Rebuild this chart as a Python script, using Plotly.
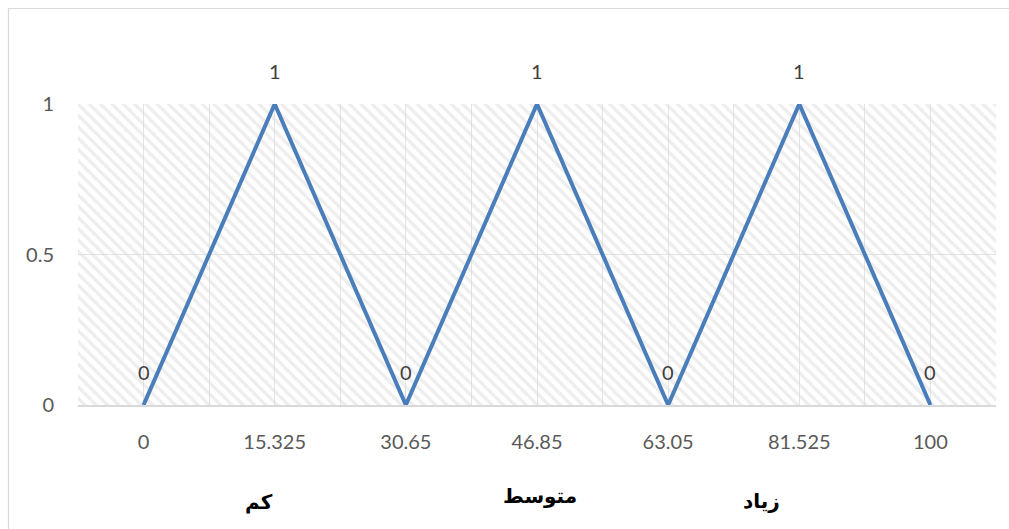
import plotly.graph_objects as go

# ---- data ----
categories = ["0", "15.325", "30.65", "46.85", "63.05", "81.525", "100"]
membership = [0, 1, 0, 1, 0, 1, 0]
y_ticks = [0, 0.5, 1]
y_tick_text = ["0", "0.5", "1"]
level_labels = ["کم", "متوسط", "زیاد"]

# ---- layout constants ----
W, H = 1009, 529
L, R, T, B = 78, 13, 104, 124
pw, ph = W - L - R, H - T - B
level_px = [(243, 516), (540, 510), (782, 515)]

x_idx = list(range(len(categories)))
ymax = max(y_ticks)

fig = go.Figure()

# hatched plot background
fig.add_trace(go.Bar(
    x=x_idx, y=[ymax] * len(x_idx), width=1,
    marker=dict(color="rgba(0,0,0,0)", line=dict(width=0),
                pattern=dict(shape="\\", size=8, solidity=0.4,
                             fgcolor="#dcdcdc", bgcolor="rgba(0,0,0,0)",
                             fillmode="overlay")),
    hoverinfo="skip", showlegend=False))

fig.add_trace(go.Scatter(
    x=x_idx, y=membership, mode="lines",
    line=dict(color="#4a7ebb", width=4),
    showlegend=False, hoverinfo="skip"))

annotations = []
for xi, v in zip(x_idx, membership):
    annotations.append(dict(
        x=xi, y=v, xref="x", yref="y", text=str(v), showarrow=False,
        yshift=33, font=dict(family="Lato", size=20, color="#404040")))

for txt, (px, py) in zip(level_labels, level_px):
    annotations.append(dict(
        x=(px - L) / pw, y=(T + ph - py) / ph, xref="paper", yref="paper",
        text="<b>" + txt + "</b>", showarrow=False,
        font=dict(family="DejaVu Sans", size=20, color="#000000")))

fig.update_layout(
    width=W, height=H,
    margin=dict(l=L, r=R, t=T, b=B),
    paper_bgcolor="white", plot_bgcolor="white",
    annotations=annotations,
    bargap=0,
    shapes=[dict(type="rect", xref="paper", yref="paper",
                 x0=(8.5 - L) / pw, x1=(W + 5 - L) / pw,
                 y0=(T + ph - (H + 5)) / ph, y1=(T + ph - 8.5) / ph,
                 line=dict(color="#d9d9d9", width=1.2), layer="below")],
)

fig.update_xaxes(
    range=[-0.5, len(categories) - 0.5],
    tickvals=x_idx, ticktext=categories,
    showgrid=True, gridcolor="#e3e3e3", gridwidth=1,
    minor=dict(tick0=0.5, dtick=1, showgrid=True, gridcolor="#e3e3e3", gridwidth=1),
    ticks="outside", ticklen=18, tickcolor="rgba(0,0,0,0)",
    tickfont=dict(family="Lato", size=20, color="#595959"),
    showline=True, linecolor="#d9d9d9", linewidth=1.5, mirror=False,
    zeroline=False, fixedrange=True)

fig.update_yaxes(
    range=[0, ymax], tickvals=y_ticks, ticktext=y_tick_text,
    showgrid=True, gridcolor="#e3e3e3", gridwidth=1,
    ticks="outside", ticklen=19, tickcolor="rgba(0,0,0,0)",
    tickfont=dict(family="Lato", size=20, color="#595959"),
    zeroline=False, showline=False, fixedrange=True)

fig.write_html("out.html", config={"displayModeBar": False})
